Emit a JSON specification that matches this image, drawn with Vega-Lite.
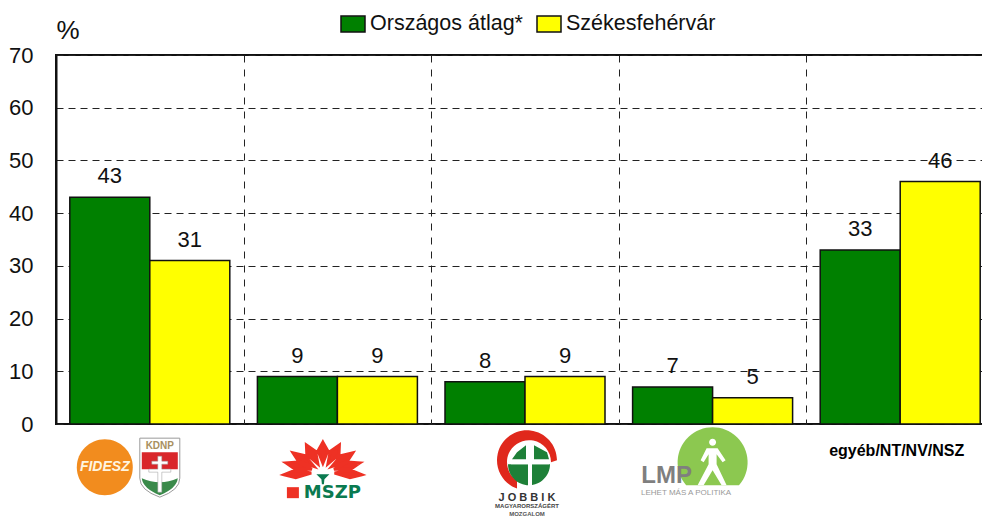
{"$schema":"https://vega.github.io/schema/vega-lite/v6.json","width":938,"height":369,"autosize":"none","padding":{"left":56,"top":55,"right":0,"bottom":93},"background":"white",
"config":{"font":"Liberation Sans","view":{"stroke":"#111","strokeWidth":2}},
"data":{"values":[
{"cat":"FIDESZ-KDNP","series":"Országos átlag*","v":43},{"cat":"FIDESZ-KDNP","series":"Székesfehérvár","v":31},
{"cat":"MSZP","series":"Országos átlag*","v":9},{"cat":"MSZP","series":"Székesfehérvár","v":9},
{"cat":"JOBBIK","series":"Országos átlag*","v":8},{"cat":"JOBBIK","series":"Székesfehérvár","v":9},
{"cat":"LMP","series":"Országos átlag*","v":7},{"cat":"LMP","series":"Székesfehérvár","v":5},
{"cat":"egyéb/NT/NV/NSZ","series":"Országos átlag*","v":33},{"cat":"egyéb/NT/NV/NSZ","series":"Székesfehérvár","v":46}]},
"encoding":{
"x":{"field":"cat","type":"nominal","sort":null,"title":null,"scale":{"paddingInner":0,"paddingOuter":0},"axis":{"labelAngle":0,"domain":false,"ticks":false,"grid":true,"tickBand":"extent","gridColor":"#222","gridDash":[7,7],"gridWidth":1,"labelExpr":"datum.label=='egyéb/NT/NV/NSZ'?datum.label:''","labelFontWeight":"bold","labelFontSize":16,"labelColor":"#000","labelPadding":18,"labelOffset":-4,"labelLimit":200}},
"y":{"field":"v","type":"quantitative","title":"%","scale":{"domain":[0,70],"nice":false},"axis":{"values":[0,10,20,30,40,50,60,70],"domainColor":"#111","domainWidth":2,"ticks":false,"grid":true,"gridColor":"#222","gridDash":[7,5],"gridWidth":1,"labelFontSize":22,"labelColor":"#111","labelPadding":23,"titleFontSize":26,"titleFontWeight":"normal","titleColor":"#111","titleAngle":0,"titleAlign":"left","titleBaseline":"middle","titleX":0,"titleY":-25}}},
"layer":[
{"mark":{"type":"bar","stroke":"#111","strokeWidth":1.5},"encoding":{
"xOffset":{"field":"series","type":"nominal","scale":{"paddingInner":0,"paddingOuter":0.1725}},
"color":{"field":"series","type":"nominal","scale":{"domain":["Országos átlag*","Székesfehérvár"],"range":["#008000","#ffff00"]},"legend":{"orient":"none","legendX":284,"legendY":-44,"direction":"horizontal","title":null,"labelFontSize":21.5,"labelColor":"#111","symbolType":"M-1,-0.66H1V0.66H-1Z","symbolSize":576,"symbolStrokeColor":"#111","symbolStrokeWidth":1.5,"symbolOpacity":1,"columns":2,"columnPadding":11,"labelOffset":4,"labelLimit":300}}}},
{"mark":{"type":"text","fontSize":22,"color":"#111","baseline":"bottom","dy":-9},"encoding":{"xOffset":{"field":"series","type":"nominal","scale":{"paddingInner":0,"paddingOuter":0.1725}},"text":{"field":"v"}}},
{"data":{"values":[{"cat":"FIDESZ-KDNP","v":-8,"t":"FIDESZ"}]},"layer":[
{"mark":{"type":"point","filled":true,"size":4,"opacity":1,"fill":"#f28c1e","shape":"M-73,1A28,28,0,1,1,-17,1A28,28,0,1,1,-73,1Z"}},
{"mark":{"type":"text","fontStyle":"italic","fontWeight":"bold","fontSize":14,"color":"#fff5e0","dx":-45,"dy":1},"encoding":{"text":{"field":"t"}}},
{"mark":{"type":"point","filled":true,"size":4,"opacity":1,"fill":"#fff","stroke":"#9a9a9a","strokeWidth":1,"shape":"M-10,-28L30,-28L30,12Q30,24,10,31Q-10,24,-10,12Z"}},
{"mark":{"type":"point","filled":true,"size":4,"opacity":1,"fill":"#d9262a","shape":"M-8,-14H28V3H-8Z"}},
{"mark":{"type":"point","filled":true,"size":4,"opacity":1,"fill":"#3a8a4a","shape":"M-8,12Q10,20,28,12Q27,22,10,29Q-7,22,-8,12Z"}},
{"mark":{"type":"point","filled":true,"size":4,"opacity":1,"fill":"#fff","stroke":"#999","strokeWidth":0.5,"shape":"M8,-10H12V-5H18V-2H12V3H21V6H12V26H8V6H-1V3H8V-2H2V-5H8Z"}},
{"mark":{"type":"text","text":"KDNP","fontWeight":"bold","fontSize":10,"color":"#a89060","dx":10,"dy":-20}}]},
{"data":{"values":[{"cat":"MSZP","v":-8,"t":"MSZP"}]},"layer":[
{"mark":{"type":"point","filled":true,"size":4,"opacity":1,"fill":"#ee3124","stroke":"#ee3124","strokeWidth":3,"shape":"M-14.5,-24L-9.6,-15.3L-14.5,-3L-19.4,-15.3ZM2,-21.2L1.6,-11.7L-9.5,-2.2L-7.2,-14.9ZM-31,-21.2L-30.6,-11.7L-19.5,-2.2L-21.8,-14.9ZM15.4,-13.3L9.8,-4.8L-5.5,0.2L3.6,-10.6ZM-44.4,-13.3L-38.8,-4.8L-23.5,0.2L-32.6,-10.6ZM22.6,-3.3L13.3,3L-3.4,3.2L10.3,-4.1ZM-51.6,-3.3L-42.3,3L-25.6,3.2L-39.3,-4.1ZM24.4,8.6L12.6,11.6L-2.8,6.8L13.5,4.1ZM-53.4,8.6L-41.6,11.6L-26.2,6.8L-42.5,4.1Z"}},
{"mark":{"type":"point","filled":true,"size":4,"opacity":1,"fill":"#0a7a50","shape":"M-21,8H-8L-13,13L-13.5,18H-15.5L-16,13Z"}},
{"mark":{"type":"point","filled":true,"size":4,"opacity":1,"fill":"#ee3124","shape":"M-50.5,21H-38.5V32H-50.5Z"}},
{"mark":{"type":"text","font":"DejaVu Sans","fontWeight":"bold","fontSize":18,"color":"#0a7a50","dx":-5,"dy":27},"encoding":{"text":{"field":"t"}}}]},
{"data":{"values":[{"cat":"JOBBIK","v":-8,"t":"J O B B I K"}]},"layer":[
{"mark":{"type":"point","filled":true,"size":4,"opacity":1,"fill":"#e0281c","shape":"M-8,22.3A30,30,0,1,1,32,-6L26,-4A22,22,0,1,0,-8,14.4Z"}},
{"mark":{"type":"point","filled":true,"size":4,"opacity":1,"fill":"#1e8038","shape":"M-17,-2A21,21,0,0,0,25,-2ZM9,-21L22,-14L24,-7H9ZM1,-21L-8,-14L-13,-7H1Z"}},
{"mark":{"type":"point","filled":true,"size":4,"opacity":1,"fill":"#fff","shape":"M3,-24H7V24H3ZM-14,-5H24V-2H-14Z"}},
{"mark":{"type":"text","fontWeight":"bold","fontSize":11,"color":"#333","dx":2,"dy":32},"encoding":{"text":{"field":"t"}}},
{"mark":{"type":"text","text":"MAGYARORSZÁGÉRT","fontWeight":"bold","fontSize":6,"color":"#444","dx":2,"dy":40}},
{"mark":{"type":"text","text":"MOZGALOM","fontWeight":"bold","fontSize":6,"color":"#555","dx":2,"dy":47.5}}]},
{"data":{"values":[{"cat":"LMP","v":-8,"t":"LMP"}]},"layer":[
{"mark":{"type":"point","filled":true,"size":4,"opacity":1,"fill":"#8cc850","shape":"M-26.4,19A35,35,0,1,1,26.4,19Z"}},
{"mark":{"type":"point","filled":true,"size":4,"opacity":1,"fill":"#fff","shape":"M-3.5,-24A3.5,3.5,0,1,1,3.5,-24A3.5,3.5,0,1,1,-3.5,-24ZM-6,-18H5L13,-6L10,-4L4,-12L4,-2L14,19H9L0,4L-9,19H-15L-4,-2L-4,-12L-9,-4L-12,-6Z"}},
{"mark":{"type":"text","fontWeight":"bold","fontSize":24,"color":"#7f7f7f","dx":-46,"dy":9.5},"encoding":{"text":{"field":"t"}}},
{"mark":{"type":"text","text":"LEHET MÁS A POLITIKA","fontSize":8,"color":"#999","dx":-26.5,"dy":26.5}}]}
]}
